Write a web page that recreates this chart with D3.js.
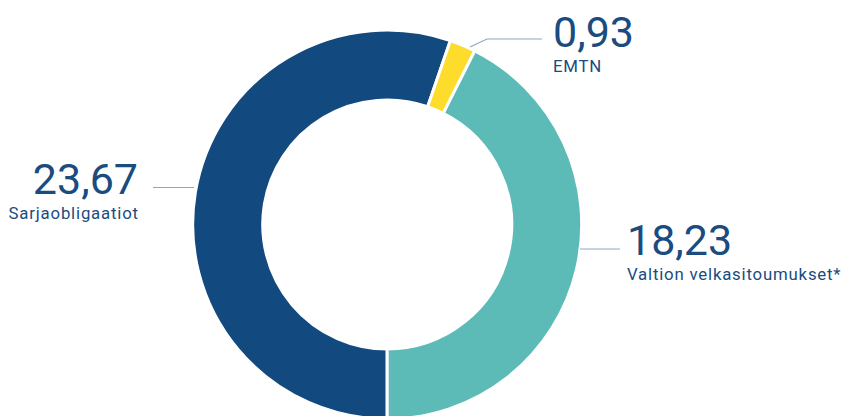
<!DOCTYPE html>
<html><head><meta charset="utf-8">
<script src="https://cdn.jsdelivr.net/npm/d3@7"></script>
<style>
html,body{margin:0;padding:0;background:#fff;}
svg{display:block;font-family:Roboto, "Noto Sans", sans-serif;}
</style></head>
<body>
<svg id="chart" width="846" height="416"></svg>
<script>
const categories = ["Sarjaobligaatiot", "EMTN", "Valtion velkasitoumukset*"];
const values = [23.67, 0.93, 18.23];
const valueLabels = ["23,67", "0,93", "18,23"];
const colors = ["#12497e", "#fddc2c", "#5dbbb7"];

const svg = d3.select("#chart");
const cx = 387.2, cy = 224.5, R = 194.5, r = 124.5;
const g = svg.append("g").attr("transform", `translate(${cx},${cy})`);

const pie = d3.pie().sort(null).startAngle(Math.PI).endAngle(3*Math.PI);
const arcs = pie(values);
const arc = d3.arc().innerRadius(r).outerRadius(R);

g.selectAll("path").data(arcs).join("path")
  .attr("d", arc)
  .attr("fill", (d,i)=>colors[i])
  .attr("stroke", "#fff")
  .attr("stroke-width", 3);

const labelSpec = [
  {anchor:"end", x:138, y:194, line:[[153,187.5],[194,187.5]]},
  {anchor:"start", x:553, y:47, line:[[470,47],[487,39],[542,39]]},
  {anchor:"start", x:627, y:255, line:[[580,249],[620,249]]}
];

const lbl = svg.append("g");
labelSpec.forEach((s,i)=>{
  lbl.append("path")
    .attr("d", d3.line()(s.line))
    .attr("fill","none").attr("stroke","#8ea7c6").attr("stroke-width",1.2);
  lbl.append("text")
    .attr("x", s.x).attr("y", s.y)
    .attr("text-anchor", s.anchor)
    .attr("fill", "#1a4c80")
    .attr("font-size", 43)
    .attr("font-weight", 400)
    .text(valueLabels[i]);
  lbl.append("text")
    .attr("x", s.anchor === "end" ? s.x + 0.8 : s.x)
    .attr("y", s.y + 24.5)
    .attr("text-anchor", s.anchor)
    .attr("fill", "#1a4c80")
    .attr("font-size", 16.8)
    .attr("letter-spacing", 0.8)
    .text(categories[i]);
});
</script>
</body></html>
